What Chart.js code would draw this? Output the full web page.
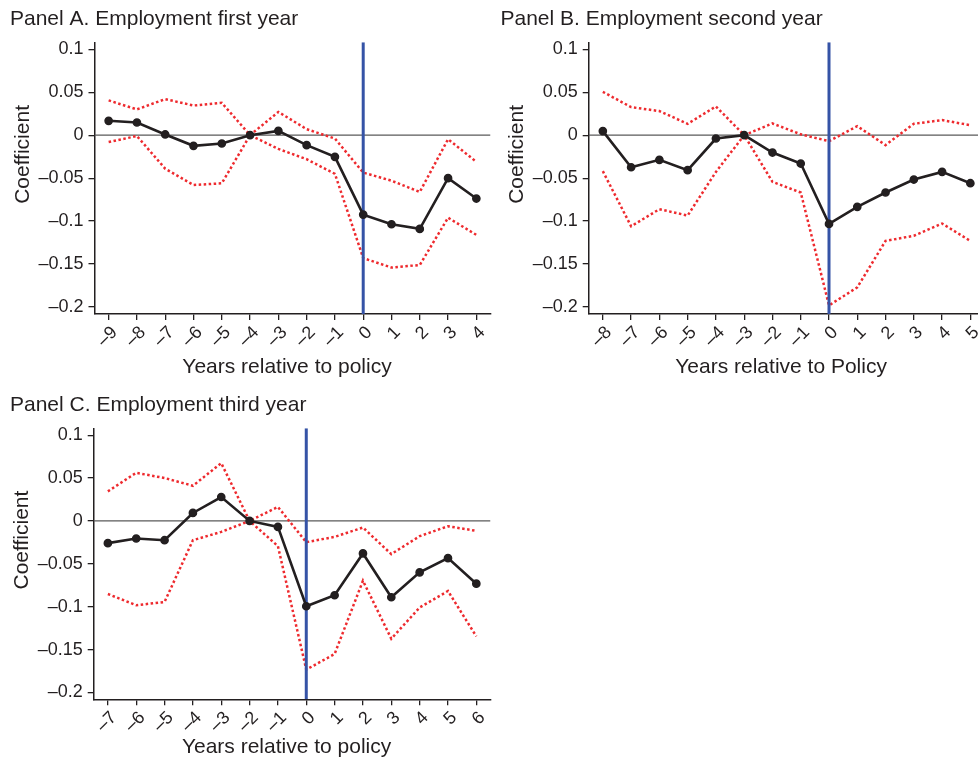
<!DOCTYPE html>
<html>
<head>
<meta charset="utf-8">
<script src="https://cdn.jsdelivr.net/npm/chart.js@4.4.1/dist/chart.umd.min.js"></script>
<style>
  html, body { margin: 0; padding: 0; background: #fff; width: 978px; height: 758px; overflow: hidden; }
  canvas { position: absolute; }
</style>
</head>
<body>
<canvas id="panelA" width="496" height="385" style="left:0;top:0"></canvas>
<canvas id="panelB" width="500" height="385" style="left:490px;top:0"></canvas>
<canvas id="panelC" width="496" height="372" style="left:0;top:386px"></canvas>
<script>
// Event-study coefficients with 95% confidence bounds, by year relative to the policy.
const yearsA = [-9, -8, -7, -6, -5, -4, -3, -2, -1, 0, 1, 2, 3, 4];
const coefA  = [0.0167, 0.0147, 0.0008, -0.0124, -0.0097, 0, 0.005, -0.0116, -0.0252, -0.0924, -0.1036, -0.109, -0.050, -0.0737];
const upperA = [0.0404, 0.030, 0.0419, 0.0345, 0.0376, 0, 0.027, 0.007, -0.004, -0.0435, -0.053, -0.066, -0.0047, -0.031];
const lowerA = [-0.008, -0.001, -0.039, -0.058, -0.056, 0, -0.016, -0.028, -0.045, -0.143, -0.154, -0.151, -0.096, -0.116];

const yearsB = [-8, -7, -6, -5, -4, -3, -2, -1, 0, 1, 2, 3, 4, 5];
const coefB  = [0.0047, -0.0373, -0.0287, -0.0407, -0.0039, 0, -0.0202, -0.033, -0.1032, -0.0834, -0.0667, -0.0516, -0.0427, -0.0559];
const upperB = [0.0504, 0.0326, 0.028, 0.0132, 0.0334, 0, 0.0136, 0.001, -0.007, 0.0105, -0.0116, 0.0132, 0.0175, 0.0116];
const lowerB = [-0.0419, -0.106, -0.0861, -0.0935, -0.0427, 0, -0.0543, -0.0667, -0.198, -0.177, -0.123, -0.117, -0.1028, -0.123];

const yearsC = [-7, -6, -5, -4, -3, -2, -1, 0, 1, 2, 3, 4, 5, 6];
const coefC  = [-0.0259, -0.0205, -0.0225, 0.0093, 0.0279, 0, -0.007, -0.0995, -0.0867, -0.0379, -0.089, -0.060, -0.0434, -0.0732];
const upperC = [0.0345, 0.0561, 0.050, 0.041, 0.0674, 0, 0.0163, -0.0248, -0.0186, -0.0077, -0.0387, -0.0178, -0.0062, -0.0116];
const lowerC = [-0.0852, -0.0983, -0.0945, -0.0225, -0.0128, 0, -0.0294, -0.1734, -0.1552, -0.0697, -0.1374, -0.101, -0.0817, -0.1347];

const yTickValues = [-0.2, -0.15, -0.1, -0.05, 0, 0.05, 0.1];
const Y_MIN = -0.208;
const Y_MAX = 0.108;

const INK = '#231f20';
const RED = '#ee2a2e';
const BLUE = '#3553a6';
const ZERO = '#5a5a5a';
const FAMILY = '"Liberation Sans", Arial, Helvetica, sans-serif';

// Negative numbers use a dash instead of a hyphen.
const fmt = v => (v < 0 ? '\u2013' + String(Math.abs(v)) : String(v));

// Axis titles, drawn relative to the plot area.
const axisTitles = {
  id: 'axisTitles',
  afterDraw(chart, args, opts) {
    const { ctx, chartArea: a } = chart;
    ctx.save();
    ctx.fillStyle = INK;
    ctx.font = '21px ' + FAMILY;
    ctx.textAlign = 'center';
    ctx.textBaseline = 'alphabetic';
    ctx.fillText(opts.x, (a.left + a.right) / 2 - 5.5, a.bottom + opts.xGap);
    ctx.translate(a.left - 66, (a.top + a.bottom) / 2 - 23.7);
    ctx.rotate(-Math.PI / 2);
    ctx.fillText(opts.y, 0, 0);
    ctx.restore();
  }
};

function panel(canvasId, title, years, coef, upper, lower, xTitle, o) {
  const lo = years[0] - 0.5;
  const hi = years[years.length - 1] + 0.5;
  const pts = arr => years.map((x, i) => ({ x, y: arr[i] }));
  const ciStyle = { borderColor: RED, borderWidth: 2.5, borderDash: [2.5, 2.5], pointRadius: 0, order: 2 };
  const axisGrid = { display: true, drawOnChartArea: false, drawTicks: true, tickLength: 6, color: INK, lineWidth: 1.3 };
  const axisBorder = { display: true, color: INK, width: 1.5 };

  return new Chart(document.getElementById(canvasId), {
    type: 'line',
    data: {
      datasets: [
        { label: 'Coefficient', data: pts(coef), borderColor: INK, borderWidth: 2.6,
          pointRadius: 3.6, pointBackgroundColor: INK, pointBorderColor: INK, pointBorderWidth: 1.5, order: 0 },
        { label: 'Policy year', data: [{ x: 0, y: Y_MIN }, { x: 0, y: Y_MAX }],
          borderColor: BLUE, borderWidth: 3, pointRadius: 0, order: 1 },
        Object.assign({ label: 'Upper bound', data: pts(upper) }, ciStyle),
        Object.assign({ label: 'Lower bound', data: pts(lower) }, ciStyle),
        { label: 'Zero', data: [{ x: lo, y: 0 }, { x: hi, y: 0 }],
          borderColor: ZERO, borderWidth: 1.3, pointRadius: 0, order: 3 }
      ]
    },
    options: {
      responsive: false,
      animation: false,
      events: [],
      elements: { line: { tension: 0, fill: false, borderCapStyle: 'butt' } },
      layout: { padding: { left: o.pl, right: 0, top: 0, bottom: 0 } },
      plugins: {
        legend: { display: false },
        tooltip: { enabled: false },
        title: {
          display: true, text: title, align: 'start', color: INK,
          font: { family: FAMILY, size: 21, weight: 'normal', lineHeight: 1.2 },
          padding: { top: 6.8, bottom: 10.3 }
        },
        axisTitles: { x: xTitle, y: 'Coefficient', xGap: o.xGap }
      },
      scales: {
        x: {
          type: 'linear', min: lo, max: hi,
          afterBuildTicks: s => { s.ticks = years.map(v => ({ value: v })); },
          afterFit: s => { s.height = o.xh; },
          ticks: {
            autoSkip: false, minRotation: 45, maxRotation: 45, labelOffset: 6, padding: 2,
            color: INK, font: { family: FAMILY, size: 18 },
            callback: v => fmt(v)
          },
          grid: axisGrid, border: axisBorder
        },
        y: {
          type: 'linear', min: Y_MIN, max: Y_MAX,
          afterBuildTicks: s => { s.ticks = yTickValues.map(v => ({ value: v })); },
          afterFit: s => { s.width = o.yw; },
          ticks: {
            autoSkip: false, padding: 5, color: INK, font: { family: FAMILY, size: 18 },
            callback: v => fmt(v)
          },
          grid: axisGrid, border: axisBorder
        }
      }
    },
    plugins: [axisTitles]
  });
}

panel('panelA', 'Panel A. Employment first year', yearsA, coefA, upperA, lowerA,
      'Years relative to policy', { pl: 10, yw: 84.5, xh: 71, xGap: 59 });
panel('panelB', 'Panel B. Employment second year', yearsB, coefB, upperB, lowerB,
      'Years relative to Policy', { pl: 10.5, yw: 88.2, xh: 71, xGap: 59 });
panel('panelC', 'Panel C. Employment third year', yearsC, coefC, upperC, lowerC,
      'Years relative to policy', { pl: 10, yw: 83.7, xh: 58.7, xGap: 53.7 });
</script>
</body>
</html>
